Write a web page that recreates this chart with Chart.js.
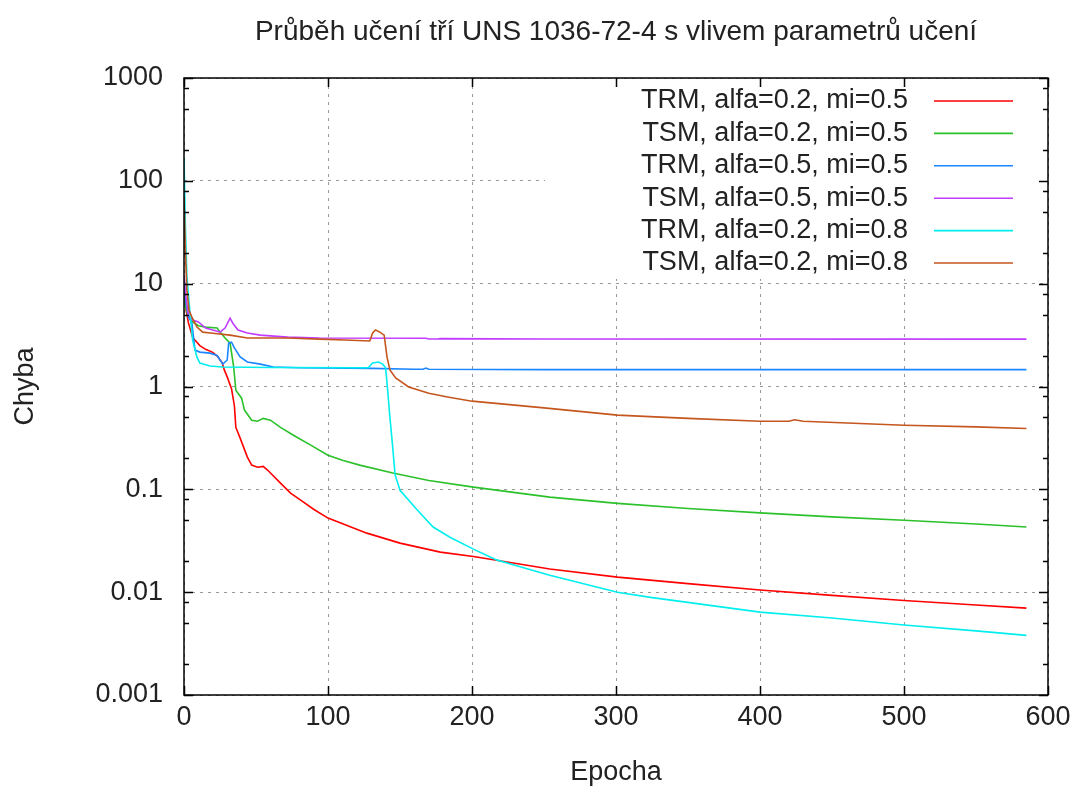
<!DOCTYPE html>
<html>
<head>
<meta charset="utf-8">
<script src="https://cdn.jsdelivr.net/npm/chart.js@4.4.1/dist/chart.umd.min.js"></script>
<style>
  html, body { margin: 0; padding: 0; background: #fff; }
  #wrap { width: 1072px; height: 789px; }
</style>
</head>
<body>
<div id="wrap"><canvas id="graf"></canvas></div>
<script>
// data: [epocha, chyba]
const trmA02M05 = [[0, 9], [1, 6], [3, 4.2], [6, 3.0], [11, 2.5], [15, 2.3], [20, 2.15], [23.5, 1.95], [26.5, 1.7],
  [28, 1.45], [30, 1.24], [33, 0.95], [35, 0.65], [36, 0.40], [39, 0.315], [44, 0.206], [47, 0.172], [51, 0.164],
  [55, 0.167], [58, 0.154], [67, 0.115], [74, 0.092], [83, 0.075], [90, 0.064], [100, 0.0525], [127, 0.0375],
  [150, 0.030], [178, 0.0245], [201, 0.0222], [217, 0.0204], [254, 0.0168], [301, 0.014], [350, 0.0121],
  [400, 0.0105], [450, 0.0093], [500, 0.0083], [550, 0.0075], [585, 0.0070]];

const tsmA02M05 = [[0, 9], [1, 6], [3, 4.8], [6, 4.24], [10, 3.9], [15, 3.78], [23, 3.7], [25, 3.38], [28.5, 2.96],
  [32, 2.64], [34.5, 1.55], [36, 0.92], [37.5, 0.86], [40, 0.77], [42, 0.59], [47, 0.47], [51, 0.46], [55, 0.49],
  [60, 0.47], [67, 0.40], [76, 0.336], [88, 0.269], [100, 0.215], [110, 0.192], [122, 0.172], [145, 0.144],
  [170, 0.122], [201, 0.105], [254, 0.084], [301, 0.073], [350, 0.065], [400, 0.059], [450, 0.054], [500, 0.050],
  [550, 0.046], [585, 0.043]];

const trmA05M05 = [[0, 12], [1, 7], [3, 4.8], [5.5, 4.1], [7.6, 2.26], [11, 2.16], [18, 2.11], [23, 2.0], [25, 1.81],
  [27, 1.65], [30, 1.81], [31, 2.64], [33, 2.70], [35, 2.37], [39, 1.94], [44, 1.73], [53, 1.65], [62, 1.55],
  [80, 1.52], [130, 1.50], [160, 1.47], [166, 1.47], [168, 1.51], [170, 1.47], [250, 1.46], [400, 1.46], [585, 1.46]];

const tsmA05M05 = [[0, 12], [1, 8], [3, 5], [6, 4.43], [10, 4.24], [15, 3.70], [20, 3.54], [25, 3.38], [28.5, 3.70],
  [32, 4.62], [34, 4.1], [37.5, 3.54], [44, 3.31], [53, 3.16], [72, 3.02], [94, 2.96], [168, 2.95], [170, 2.90],
  [176, 2.90], [178, 2.92], [250, 2.90], [585, 2.89]];

const trmA02M08 = [[0, 166], [1, 35], [2, 12], [4, 5.5], [6, 2.82], [9, 1.93], [11, 1.69], [18, 1.58], [27, 1.55],
  [60, 1.53], [128, 1.52], [131, 1.69], [135, 1.73], [138, 1.65], [140, 1.52], [141, 1.08], [143, 0.50],
  [144.5, 0.30], [146.6, 0.138], [150, 0.098], [162, 0.063], [173, 0.043], [185, 0.034], [201, 0.0262],
  [217, 0.0206], [231, 0.0181], [254, 0.0146], [301, 0.0100], [324, 0.0089], [400, 0.0064], [450, 0.0056],
  [500, 0.0048], [550, 0.0042], [585, 0.0038]];

const tsmA02M08 = [[0, 70], [1, 20], [2, 8.7], [3.5, 5.5], [5.5, 4.73], [9, 3.78], [13, 3.38], [20, 3.3], [32, 3.16],
  [44, 2.96], [72, 2.96], [94, 2.89], [112, 2.83], [129, 2.77], [131, 3.31], [133, 3.54], [136, 3.38], [139, 3.16],
  [141, 1.93], [143, 1.45], [147, 1.21], [156, 0.99], [170, 0.86], [183, 0.79], [200, 0.72], [250, 0.62],
  [301, 0.527], [350, 0.49], [400, 0.46], [420, 0.46], [424, 0.475], [430, 0.46], [500, 0.42], [550, 0.405],
  [585, 0.39]];

const nazvy = ['TRM, alfa=0.2, mi=0.5', 'TSM, alfa=0.2, mi=0.5', 'TRM, alfa=0.5, mi=0.5',
  'TSM, alfa=0.5, mi=0.5', 'TRM, alfa=0.2, mi=0.8', 'TSM, alfa=0.2, mi=0.8'];
const barvy = ['#ff0000', '#2bc12b', '#1a86ff', '#c13cff', '#00eeee', '#c4561e'];
const serie = [trmA02M05, tsmA02M05, trmA05M05, tsmA05M05, trmA02M08, tsmA02M08];

const yTicks = [0.001, 0.01, 0.1, 1, 10, 100, 1000];
const yLabels = ['0.001', '0.01', '0.1', '1', '10', '100', '1000'];
const yMinor = [2, 5, 8];
const xTicks = [0, 100, 200, 300, 400, 500, 600];

const FONT = "'Liberation Sans', Arial, sans-serif";
const TEXT = '#222';

// ramecek, znacky a legenda ve stylu gnuplotu
const gnuplotStyl = {
  id: 'gnuplotStyl',
  beforeDatasetsDraw(chart) {
    const { ctx, chartArea: a } = chart;
    // bily podklad pod legendou (zakryje mrizku)
    ctx.save();
    ctx.fillStyle = '#fff';
    ctx.fillRect(a.right - 503, a.top + 1, 500, 200);
    ctx.restore();
  },
  afterDatasetsDraw(chart) {
    const { ctx, chartArea: a, scales } = chart;
    const y = scales.y, x = scales.x;
    ctx.save();
    ctx.strokeStyle = '#000';
    ctx.lineWidth = 1.5;
    ctx.beginPath();
    // hlavni znacky na ose y
    yTicks.forEach(v => {
      const p = Math.round(y.getPixelForValue(v)) + 0.5;
      ctx.moveTo(a.left, p); ctx.lineTo(a.left + 9, p);
      ctx.moveTo(a.right, p); ctx.lineTo(a.right - 9, p);
    });
    // vedlejsi znacky
    yTicks.slice(0, -1).forEach(v => {
      yMinor.forEach(m => {
        const p = Math.round(y.getPixelForValue(v * m)) + 0.5;
        ctx.moveTo(a.left, p); ctx.lineTo(a.left + 5, p);
        ctx.moveTo(a.right, p); ctx.lineTo(a.right - 5, p);
      });
    });
    xTicks.forEach(v => {
      const p = Math.round(x.getPixelForValue(v)) + 0.5;
      ctx.moveTo(p, a.bottom); ctx.lineTo(p, a.bottom - 9);
      ctx.moveTo(p, a.top); ctx.lineTo(p, a.top + 9);
    });
    ctx.stroke();
    ctx.strokeRect(a.left, a.top, a.right - a.left, a.bottom - a.top);

    // legenda
    ctx.font = '27px ' + FONT;
    ctx.textAlign = 'right';
    ctx.textBaseline = 'middle';
    chart.data.datasets.forEach((ds, i) => {
      const ry = a.top + 23 + i * 32.4;
      ctx.fillStyle = TEXT;
      ctx.fillText(ds.label, a.right - 140, ry);
      ctx.strokeStyle = ds.borderColor;
      ctx.lineWidth = 1.6;
      ctx.beginPath();
      ctx.moveTo(a.right - 114, ry);
      ctx.lineTo(a.right - 35, ry);
      ctx.stroke();
    });
    ctx.restore();
  }
};

const datasets = serie.map((s, i) => ({
  label: nazvy[i],
  data: s.map(p => ({ x: p[0], y: p[1] })),
  borderColor: barvy[i],
  backgroundColor: barvy[i],
  borderWidth: 1.6,
  pointRadius: 0,
  tension: 0,
  fill: false,
  order: serie.length - i
}));

new Chart(document.getElementById('graf'), {
  type: 'line',
  data: { datasets },
  options: {
    responsive: true,
    maintainAspectRatio: false,
    animation: false,
    layout: { padding: { left: 0, right: 24, top: 0, bottom: 0 } },
    plugins: {
      legend: { display: false },
      tooltip: { enabled: false },
      title: {
        display: true,
        fullSize: false,
        text: 'Průběh učení tří UNS 1036-72-4 s vlivem parametrů učení',
        color: TEXT,
        font: { family: FONT, size: 28, weight: 'normal' },
        padding: { top: 15, bottom: 29.4 }
      }
    },
    scales: {
      x: {
        type: 'linear',
        min: 0,
        max: 600,
        afterFit: s => { s.height = 94; s.paddingLeft = 0; s.paddingRight = 0; },
        afterBuildTicks: s => { s.ticks = xTicks.map(v => ({ value: v })); },
        ticks: { color: TEXT, font: { family: FONT, size: 27 }, padding: 6, maxRotation: 0 },
        grid: { color: '#999', lineWidth: 1, drawTicks: false },
        border: { display: false, dash: [3, 5] },
        title: { display: true, text: 'Epocha', color: TEXT, font: { family: FONT, size: 27 }, padding: 0 }
      },
      y: {
        type: 'logarithmic',
        min: 0.001,
        max: 1000,
        afterFit: s => { s.width = 184; },
        afterBuildTicks: s => { s.ticks = yTicks.map(v => ({ value: v })); },
        ticks: {
          color: TEXT,
          font: { family: FONT, size: 27 },
          padding: 21,
          autoSkip: false,
          callback: v => yLabels[yTicks.indexOf(v)]
        },
        grid: { color: '#999', lineWidth: 1, drawTicks: false },
        border: { display: false, dash: [3, 5] },
        title: { display: true, text: 'Chyba', color: TEXT, font: { family: FONT, size: 27 }, padding: 9 }
      }
    }
  },
  plugins: [gnuplotStyl]
});
</script>
</body>
</html>
